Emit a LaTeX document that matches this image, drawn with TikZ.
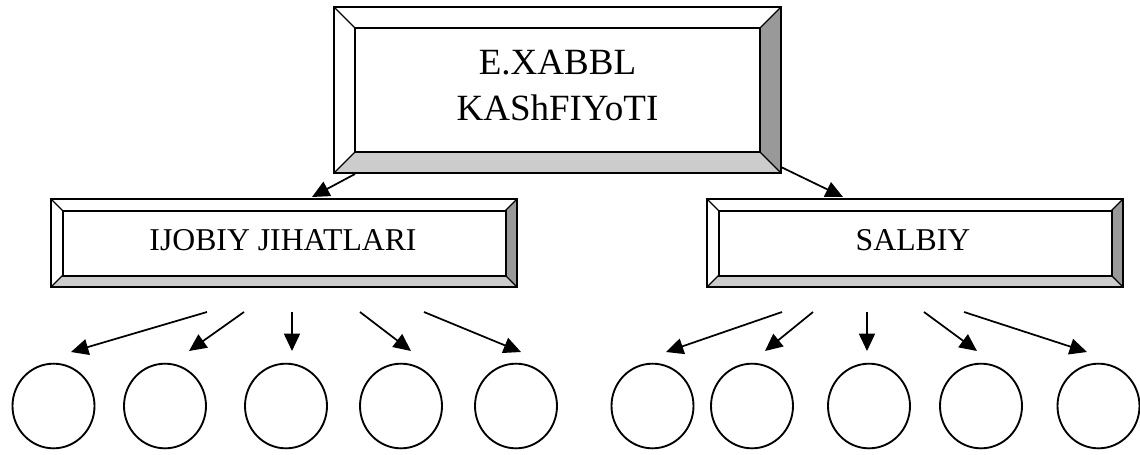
\documentclass[tikz,border=0pt]{standalone}
\usepackage{fontspec}
\setmainfont{Liberation Serif}
\usetikzlibrary{arrows.meta,shapes.geometric,calc}

\definecolor{bevellight}{HTML}{CCCCCC}
\definecolor{beveldark}{HTML}{999999}

\tikzset{
  panel/.style={rectangle, inner sep=0pt, outer sep=0pt},
  frame/.style={line width=1.5pt, line join=miter},
  facet/.style={line width=1pt},
  link/.style={line width=1.3pt, -{Triangle[length=13pt,width=12pt]}},
  bubble/.style={ellipse, draw, line width=1.4pt, inner sep=0pt,
                 minimum width=61.5pt, minimum height=63.5pt},
  bigtext/.style={inner sep=0pt, align=center, font=\fontsize{27.75pt}{34.5pt}\selectfont},
  midtext/.style={inner sep=0pt, font=\fontsize{23.8pt}{28pt}\selectfont}
}

% bevelled frame around a rectangular node: #1 node name, #2 bevel depth
\newcommand\bevelframe[2]{%
  \fill[bevellight] (#1.south west) -- (#1.south east)
    -- ($(#1.south east)+(-#2,-#2)$) -- ($(#1.south west)+(#2,-#2)$) -- cycle;
  \fill[beveldark] (#1.south east) -- (#1.north east)
    -- ($(#1.north east)+(-#2,#2)$) -- ($(#1.south east)+(-#2,-#2)$) -- cycle;
  \draw[facet] (#1.north west) -- ($(#1.north west)+(#2,#2)$)
               (#1.north east) -- ($(#1.north east)+(-#2,#2)$)
               (#1.south west) -- ($(#1.south west)+(#2,-#2)$)
               (#1.south east) -- ($(#1.south east)+(-#2,-#2)$);
  \draw[frame] (#1.north west) rectangle (#1.south east);
  \draw[frame] ($(#1.north west)+(#2,#2)$) rectangle ($(#1.south east)+(-#2,-#2)$);
}

\begin{document}
\begin{tikzpicture}[x=0.75pt, y=-0.75pt]
\useasboundingbox (0,0) rectangle (1140,454);

% panels
\node[panel, minimum width=335.25pt, minimum height=124.5pt] (top) at (557.5,90) {};
\node[panel, minimum width=349.5pt, minimum height=66pt] (plus) at (284,243) {};
\node[panel, minimum width=312pt, minimum height=66pt] (minus) at (915,243) {};

\bevelframe{top}{21}
\bevelframe{plus}{11.5}
\bevelframe{minus}{11.5}

\node[bigtext] (toptext) at (557.5,85.75) {E.XABBL\\KAShFIYoTI};
\node[midtext] (plustext) at (283,240.5) {IJOBIY JIHATLARI};
\node[midtext] (minustext) at (913,240.5) {SALBIY};

% arrows from the main panel
\coordinate (t1) at (355,174);  \coordinate (h1) at (312,197);
\coordinate (t2) at (781,167);  \coordinate (h2) at (843,197);
\draw[link] (t1) -- (h1);
\draw[link] (t2) -- (h2);

% circles
\foreach \i/\x in {1/53.5, 2/165, 3/286, 4/401, 5/516,
                   6/652.5, 7/752, 8/869, 9/981, 10/1098.5}
  \node[bubble] (c\i) at (\x,406) {};

% arrows towards the circles
\foreach \i/\sx/\ex/\ey in {1/207/71/352, 2/244/189/351, 3/292/292/351,
                            4/360/411/351, 5/424/521/352,
                            6/782/666/352, 7/813/765/351, 8/867/867/351,
                            9/924/977/351, 10/964/1087/352}{
  \coordinate (s\i) at (\sx,312);
  \coordinate (e\i) at (\ex,\ey);
  \draw[link] (s\i) -- (e\i);
}
\end{tikzpicture}
\end{document}
